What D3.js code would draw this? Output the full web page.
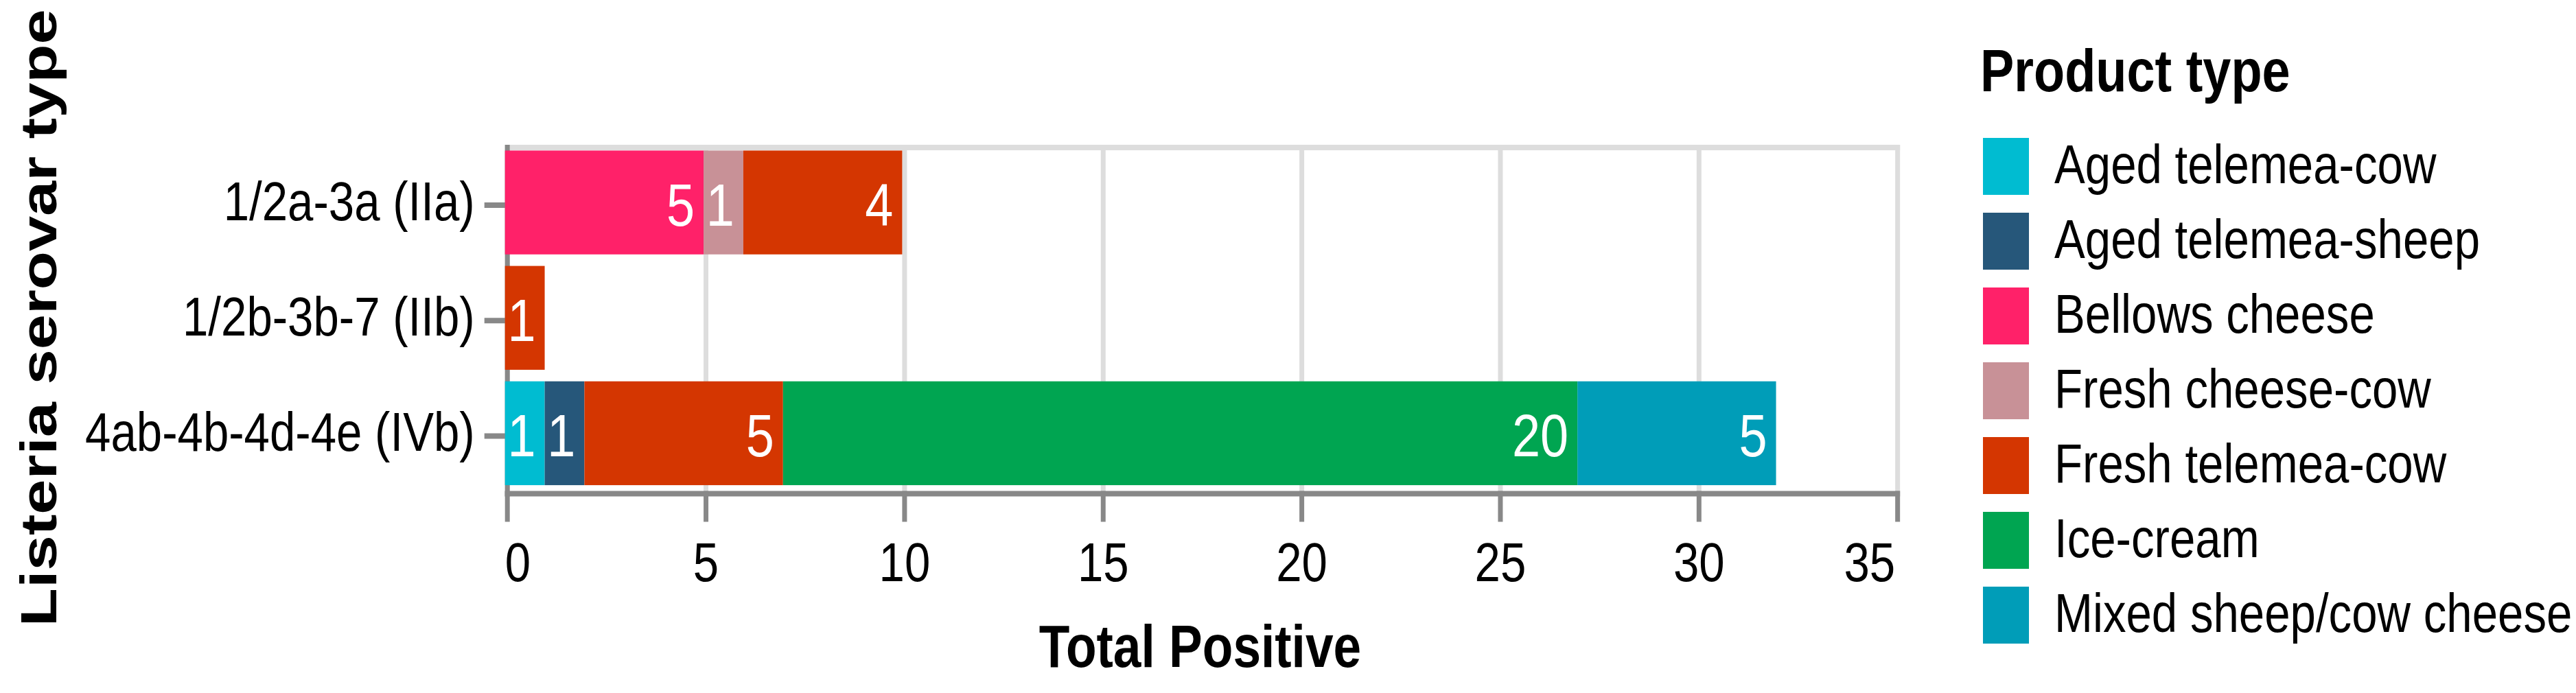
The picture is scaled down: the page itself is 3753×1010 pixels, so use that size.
<!DOCTYPE html>
<html>
<head>
<meta charset="utf-8">
<script src="https://cdn.jsdelivr.net/npm/d3@7"></script>
<style>
  body { margin: 0; background: #fff; }
  svg { display: block; }
  text { font-family: "Liberation Sans", Arial, sans-serif; }
</style>
</head>
<body>
<svg id="chart" width="3753" height="1010"></svg>
<script>
// data
var serovars = ["1/2a-3a (IIa)", "1/2b-3b-7 (IIb)", "4ab-4b-4d-4e (IVb)"];
var products = ["Aged telemea-cow", "Aged telemea-sheep", "Bellows cheese", "Fresh cheese-cow",
                "Fresh telemea-cow", "Ice-cream", "Mixed sheep/cow cheese"];
var productColors = ["#00bcd1", "#26577a", "#ff2169", "#c89197", "#d43601", "#00a551", "#009db8"];
// counts per product, one value per serovar (same order as serovars)
var agedCow    = [0, 0, 1];
var agedSheep  = [0, 0, 1];
var bellows    = [5, 0, 0];
var freshCheese= [1, 0, 0];
var freshTele  = [4, 1, 5];
var iceCream   = [0, 0, 20];
var mixed      = [0, 0, 5];
var xTicks = [0, 5, 10, 15, 20, 25, 30, 35];
var xTitle = "Total Positive";
var yTitle = "Listeria serovar type";
var legendTitle = "Product type";

var series = [agedCow, agedSheep, bellows, freshCheese, freshTele, iceCream, mixed];

var rows = serovars.map(function(s, i){
    var r = {serovar: s};
    products.forEach(function(p, j){ r[p] = series[j][i]; });
    return r;
});

var svg = d3.select("#chart");
var K = 0.84;      // text in the picture is squeezed sideways
var LW = 7, LH = 8; // line widths (vertical / horizontal)

var plotLeft = 735.7, plotTop = 211, plotH = 504.5;
var x = d3.scaleLinear().domain([0, 35]).range([plotLeft, plotLeft + 35 * 57.87]);
var y = d3.scaleBand().domain(serovars).range([plotTop, plotTop + plotH]).paddingInner(0.1).paddingOuter(0.05);
var color = d3.scaleOrdinal().domain(products).range(productColors);
var plotRight = x(35), plotBottom = plotTop + plotH;

function putText(sel, px, py, k, extra){
    sel.attr("transform", "translate(" + px + "," + py + ") scale(" + k + ",1)" + (extra || ""));
    return sel;
}

// grid + view border
var grid = svg.append("g");
grid.selectAll("line.grid").data(xTicks).enter().append("line")
    .attr("class", "grid")
    .attr("x1", function(d){ return x(d) + LW / 2; })
    .attr("x2", function(d){ return x(d) + LW / 2; })
    .attr("y1", plotTop).attr("y2", plotBottom)
    .attr("stroke", "#dddddd").attr("stroke-width", LW);
grid.append("line")
    .attr("x1", plotLeft).attr("x2", plotRight + LW)
    .attr("y1", plotTop + LH / 2).attr("y2", plotTop + LH / 2)
    .attr("stroke", "#dddddd").attr("stroke-width", LH);

// axes
var axes = svg.append("g").attr("stroke", "#888888");
axes.append("line")
    .attr("x1", plotLeft).attr("x2", plotRight + LW)
    .attr("y1", plotBottom + LH / 2).attr("y2", plotBottom + LH / 2)
    .attr("stroke-width", LH);
axes.selectAll("line.xtick").data(xTicks).enter().append("line")
    .attr("class", "xtick")
    .attr("x1", function(d){ return x(d) + LW / 2; })
    .attr("x2", function(d){ return x(d) + LW / 2; })
    .attr("y1", plotBottom).attr("y2", plotBottom + LH / 2 + 41)
    .attr("stroke-width", LW);
axes.append("line")
    .attr("x1", plotLeft + LW / 2).attr("x2", plotLeft + LW / 2)
    .attr("y1", plotTop).attr("y2", plotBottom + LH)
    .attr("stroke-width", LW);
axes.selectAll("line.ytick").data(serovars).enter().append("line")
    .attr("class", "ytick")
    .attr("x1", plotLeft - 30).attr("x2", plotLeft + LW / 2)
    .attr("y1", function(d){ return y(d) + y.bandwidth() / 2 + LH / 2; })
    .attr("y2", function(d){ return y(d) + y.bandwidth() / 2 + LH / 2; })
    .attr("stroke-width", LH);

// stacked bars
var stacked = d3.stack().keys(products)(rows);
var layers = svg.append("g").selectAll("g.layer").data(stacked).enter().append("g")
    .attr("class", "layer")
    .attr("fill", function(d){ return color(d.key); });
layers.selectAll("rect").data(function(d){ return d; }).enter().append("rect")
    .attr("x", function(d){ return x(d[0]); })
    .attr("width", function(d){ return x(d[1]) - x(d[0]); })
    .attr("y", function(d){ return y(d.data.serovar); })
    .attr("height", y.bandwidth());

// value labels at the end of each segment
var labels = [];
stacked.forEach(function(layer){
    layer.forEach(function(d){
        var v = d[1] - d[0];
        if(v > 0){ labels.push({v: v, end: d[1], serovar: d.data.serovar}); }
    });
});
svg.append("g").selectAll("text").data(labels).enter().append("text")
    .attr("text-anchor", "end")
    .attr("font-size", 88)
    .attr("fill", "#fff")
    .text(function(d){ return d.v; })
    .each(function(d){
        putText(d3.select(this), x(d.end) - 13, y(d.serovar) + y.bandwidth() / 2 + 34, K);
    });

// tick labels
svg.append("g").selectAll("text").data(xTicks).enter().append("text")
    .attr("font-size", 80)
    .attr("text-anchor", function(d, i){ return i === 0 ? "start" : (i === xTicks.length - 1 ? "end" : "middle"); })
    .text(function(d){ return d; })
    .each(function(d, i){
        var px = (i === 0 || i === xTicks.length - 1) ? x(d) : x(d) + LW / 2;
        putText(d3.select(this), px, 847, K);
    });
svg.append("g").selectAll("text").data(serovars).enter().append("text")
    .attr("font-size", 80)
    .attr("text-anchor", "end")
    .text(function(d){ return d; })
    .each(function(d){
        putText(d3.select(this), plotLeft - 44, y(d) + y.bandwidth() / 2 + LH / 2 + 22, K);
    });

// axis titles
putText(svg.append("text"), (plotLeft + plotRight) / 2, 972, 0.83)
    .attr("font-size", 88).attr("font-weight", "bold").attr("text-anchor", "middle")
    .text(xTitle);
putText(svg.append("text"), 82, plotTop + plotH / 2, 0.8, " rotate(-90)")
    .attr("font-size", 92).attr("font-weight", "bold").attr("text-anchor", "middle")
    .text(yTitle);

// legend
var legend = svg.append("g");
putText(legend.append("text"), 2885, 133, K)
    .attr("font-size", 88).attr("font-weight", "bold")
    .text(legendTitle);
var items = legend.selectAll("g.item").data(products).enter().append("g")
    .attr("class", "item")
    .attr("transform", function(d, i){ return "translate(0," + (201 + i * 109) + ")"; });
items.append("rect")
    .attr("x", 2889).attr("y", 0)
    .attr("width", 67).attr("height", 83)
    .attr("fill", function(d){ return color(d); });
items.append("text")
    .attr("font-size", 80)
    .text(function(d){ return d; })
    .each(function(){ putText(d3.select(this), 2993, 66, K); });
</script>
</body>
</html>
